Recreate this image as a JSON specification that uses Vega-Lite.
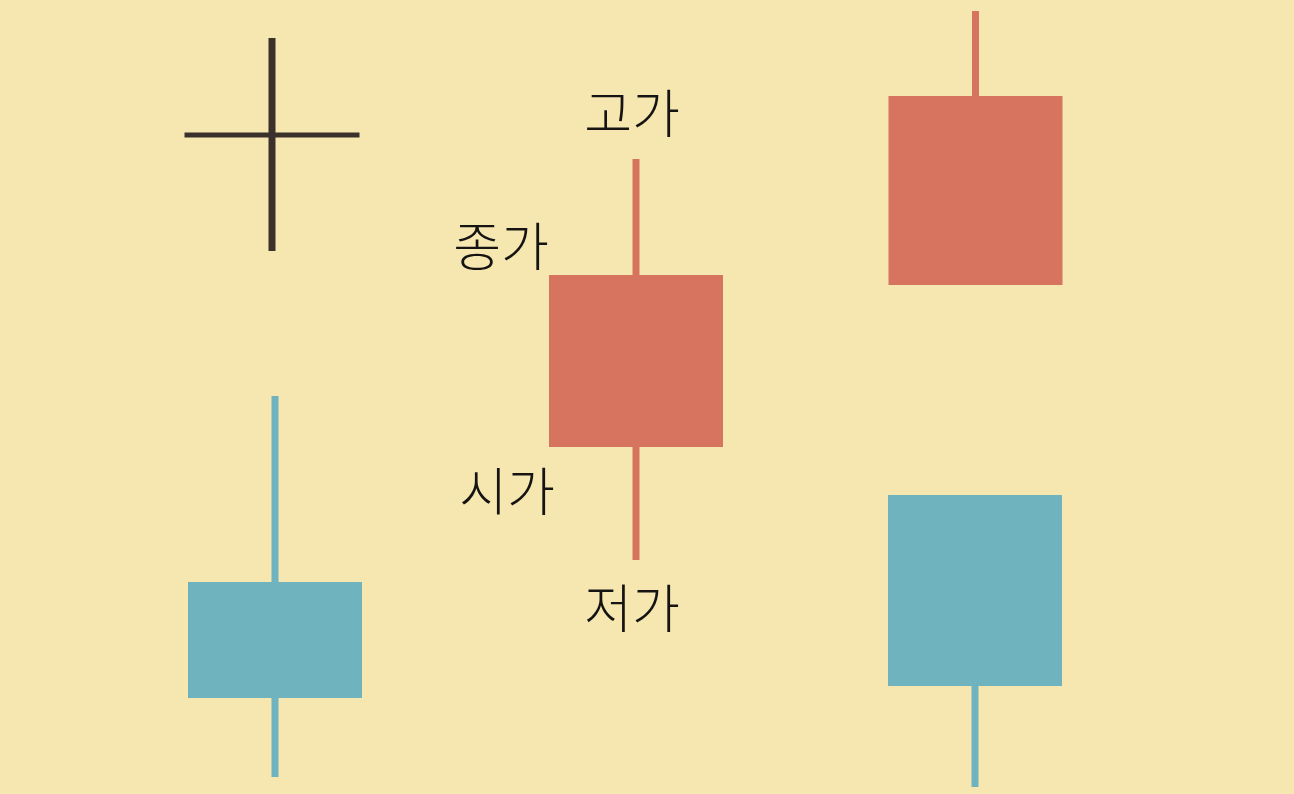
{
  "$schema": "https://vega.github.io/schema/vega-lite/v6.json",
  "width": 1294,
  "height": 794,
  "padding": 0,
  "autosize": {"type": "none"},
  "background": "#f6e7b1",
  "view": {"fill": "#f6e7b1", "stroke": null},
  "datasets": {
    "candles": [
      {"name": "doji", "pos": 2.72, "open": 65.9, "close": 65.9, "high": 75.6, "low": 54.3, "kind": "doji"},
      {"name": "fall_a", "pos": 2.75, "open": 21.2, "close": 9.6, "high": 39.8, "low": 1.7, "kind": "down"},
      {"name": "rise_a", "pos": 6.36, "open": 34.7, "close": 51.9, "high": 63.5, "low": 23.4, "kind": "up"},
      {"name": "rise_b", "pos": 9.755, "open": 50.9, "close": 69.8, "high": 78.3, "low": 50.9, "kind": "up"},
      {"name": "fall_b", "pos": 9.75, "open": 29.9, "close": 10.8, "high": 29.9, "low": 0.7, "kind": "down"}
    ],
    "labels": [
      {"label": "고가", "x": 6.32, "y": 67.7},
      {"label": "종가", "x": 5.01, "y": 54.4},
      {"label": "시가", "x": 5.07, "y": 29.9},
      {"label": "저가", "x": 6.32, "y": 18.2}
    ]
  },
  "layer": [
    {
      "data": {"name": "candles"},
      "mark": {"type": "rule", "strokeWidth": 7},
      "encoding": {
        "x": {"field": "pos", "type": "quantitative", "scale": {"domain": [0, 12.94], "nice": false, "zero": false, "padding": 0}, "axis": null},
        "y": {"field": "low", "type": "quantitative", "scale": {"domain": [0, 79.4], "nice": false, "zero": false, "padding": 0}, "axis": null},
        "y2": {"field": "high"},
        "color": {
          "field": "kind",
          "type": "nominal",
          "scale": {"domain": ["up", "down", "doji"], "range": ["#d6745f", "#6fb3be", "#3b312c"]},
          "legend": null
        }
      }
    },
    {
      "data": {"name": "candles"},
      "transform": [{"filter": "datum.kind !== 'doji'"}],
      "mark": {"type": "bar", "width": 174},
      "encoding": {
        "x": {"field": "pos", "type": "quantitative", "axis": null},
        "y": {"field": "open", "type": "quantitative", "axis": null},
        "y2": {"field": "close"},
        "color": {"field": "kind", "type": "nominal", "legend": null}
      }
    },
    {
      "data": {"name": "candles"},
      "transform": [{"filter": "datum.kind === 'doji'"}],
      "mark": {"type": "tick", "orient": "horizontal", "size": 175, "thickness": 5, "opacity": 1},
      "encoding": {
        "x": {"field": "pos", "type": "quantitative", "axis": null},
        "y": {"field": "open", "type": "quantitative", "axis": null},
        "color": {"field": "kind", "type": "nominal", "legend": null}
      }
    },
    {
      "data": {"name": "labels"},
      "mark": {
        "type": "text",
        "font": "Noto Sans CJK KR",
        "fontSize": 52,
        "fontWeight": 300,
        "color": "#161412",
        "align": "center",
        "baseline": "middle"
      },
      "encoding": {
        "x": {"field": "x", "type": "quantitative", "axis": null},
        "y": {"field": "y", "type": "quantitative", "axis": null},
        "text": {"field": "label"}
      }
    }
  ]
}
